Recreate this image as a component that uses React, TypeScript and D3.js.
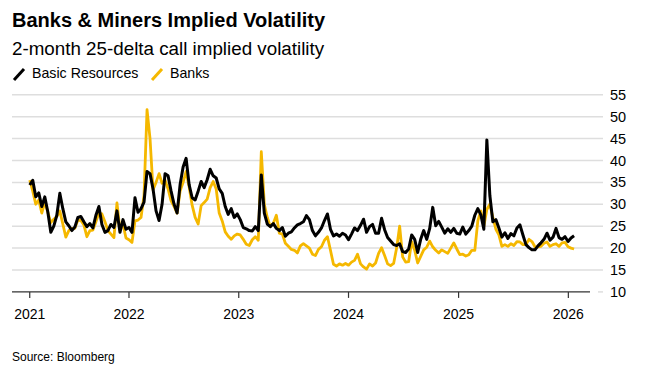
import React from 'react';
import * as d3 from 'd3';

// sampled every 10 days from the first point
const startDate = '2021-02-05';
const stepDays = 10;

const basicResources = [
  34.4, 35.5, 31.7, 32.6, 29.5, 31.7, 28.3, 23.6, 25.0, 27.5,
  32.5, 29.0, 26.0, 25.1, 24.0, 24.8, 27.0, 27.2, 26.0, 24.9,
  25.6, 24.6, 27.5, 29.5, 25.4, 23.6, 24.0, 25.4, 24.7, 28.5,
  23.6, 26.5, 24.3, 24.7, 23.6, 31.5, 28.2, 29.0, 30.5, 37.5,
  37.0, 33.5, 28.5, 26.3, 30.0, 37.0, 36.5, 33.0, 30.0, 28.0,
  34.5, 38.5, 40.5, 34.5, 31.5, 31.0, 33.0, 35.2, 33.8, 35.6,
  38.0, 36.5, 36.0, 33.5, 32.5, 29.5, 27.7, 29.0, 27.0, 27.8,
  26.5, 24.7, 24.4, 24.0, 23.9, 24.9, 24.0, 36.7, 28.0, 25.5,
  24.9, 25.6, 24.5, 24.0, 24.7, 22.7, 23.4, 23.7, 24.6, 25.3,
  25.6, 26.0, 27.4, 26.5, 24.0, 22.8, 23.6, 24.6, 26.3, 27.8,
  24.3, 22.8, 23.2, 22.7, 23.4, 23.0, 21.9, 23.2, 24.6, 24.0,
  25.2, 26.6, 23.6, 24.9, 25.4, 23.4, 23.4, 26.8, 24.2, 22.4,
  21.6, 20.8, 20.6, 21.0, 19.2, 19.0, 19.8, 23.0, 22.0, 19.0,
  22.0, 24.0, 22.0, 24.5, 29.3, 25.1, 26.1, 24.8, 23.4, 24.4,
  23.6, 24.5, 23.4, 23.2, 24.8, 23.2, 24.0, 25.0, 27.5, 29.0,
  27.6, 24.3, 44.7, 32.0, 26.0, 26.5, 24.6, 22.5, 23.5, 22.2,
  23.3, 22.8, 24.6, 25.3, 23.0, 20.8, 20.1, 19.6, 19.6, 20.5,
  21.2, 22.0, 23.4, 21.8, 22.5, 24.5, 22.4, 22.0, 22.6, 21.5,
  22.3, 22.8,
];

const banks = [
  35.5, 33.0, 30.0, 31.0, 28.0, 30.5, 28.2, 25.8, 26.6, 27.2,
  28.5, 25.5, 22.5, 24.0, 24.5, 24.5, 26.4, 26.3, 25.3, 22.6,
  24.0, 24.1, 26.0, 28.0, 27.8, 26.0, 24.0, 23.2, 22.4, 30.3,
  24.2, 25.5, 22.3, 21.9, 21.3, 26.2, 26.4, 27.0, 32.0, 51.6,
  45.0, 33.3, 35.0, 37.0, 34.8, 35.5, 33.5, 30.8, 29.5, 28.0,
  33.0, 35.0, 37.5, 34.0, 29.8, 27.0, 25.5, 29.7, 30.4, 31.2,
  33.8, 35.2, 33.5, 28.0, 26.2, 23.7, 22.7, 22.0, 22.8, 23.2,
  23.0, 22.0, 20.9, 20.6, 21.9, 22.6, 21.8, 42.0, 30.0, 27.0,
  24.9, 25.7, 27.5, 23.4, 23.2, 21.1, 20.4, 19.7, 19.5, 18.9,
  20.5, 21.0, 20.5, 20.0, 18.6, 18.3, 19.7, 20.3, 21.8, 22.6,
  19.5, 16.3, 15.9, 16.4, 16.1, 16.5, 16.1, 16.8, 17.2, 18.6,
  16.4, 15.7, 15.2, 16.4, 15.9, 16.6, 18.8, 20.1, 18.3, 16.4,
  16.0, 16.5, 20.0, 25.0, 18.0, 16.8, 16.9, 21.5, 19.5, 16.6,
  18.1, 19.6, 20.2, 21.6, 20.3, 19.5, 18.9, 19.6, 19.2, 18.8,
  20.0, 21.2, 19.8, 18.5, 18.6, 18.2, 18.5, 19.5, 19.5, 26.2,
  28.5, 25.0, 28.8, 30.0, 27.0, 24.3, 23.0, 20.4, 20.8, 20.4,
  21.0, 20.6, 21.5, 21.4, 20.8, 20.8, 22.0, 21.5, 20.3, 20.3,
  20.4, 21.1, 21.4, 20.4, 20.8, 21.0, 20.4, 21.2, 21.3, 20.3,
  20.0, 19.8,
];

const yTicks = [10, 15, 20, 25, 30, 35, 40, 45, 50, 55];
const xTickDates = ['2021-02-05', '2022-01-01', '2023-01-01', '2024-01-01', '2025-01-01', '2026-01-01'];
const xTickLabels = ['2021', '2022', '2023', '2024', '2025', '2026'];

const seriesNames = ['Basic Resources', 'Banks'];
const colors = ['#000000', '#f5b800'];

const W = 651;
const H = 372;

export default function App() {
  const t0 = new Date(startDate + 'T00:00:00Z');
  const dateAt = (i: number) => new Date(t0.getTime() + i * stepDays * 86400000);

  const x = d3.scaleTime()
    .domain([new Date('2020-12-08T00:00:00Z'), new Date('2026-03-14T00:00:00Z')])
    .range([12, 590]);
  const y = d3.scaleLinear().domain([10, 55]).range([291.9, 94.8]);

  const line = d3.line<number>()
    .x((_, i) => x(dateAt(i)))
    .y(d => y(d))
    .curve(d3.curveLinear);

  const font = '"Liberation Sans", Arial, Helvetica, sans-serif';

  return (
    <svg width={W} height={H} style={{ position: 'absolute', left: 0, top: 0 }} fontFamily={font}>
      <rect width={W} height={H} fill="#fff" />
      <text x={12} y={27} fontSize={20} fontWeight="bold" fill="#000">Banks &amp; Miners Implied Volatility</text>
      <text x={12} y={55} fontSize={18.8} fill="#000">2-month 25-delta call implied volatility</text>

      {/* legend */}
      <g>
        <line x1={14} y1={80} x2={24} y2={69} stroke={colors[0]} strokeWidth={3} />
        <text x={32} y={78} fontSize={14.2} fill="#000">{seriesNames[0]}</text>
        <line x1={152} y1={80} x2={162} y2={69} stroke={colors[1]} strokeWidth={3} />
        <text x={170} y={78} fontSize={14.2} fill="#000">{seriesNames[1]}</text>
      </g>

      {/* grid + y labels */}
      {yTicks.map(v => (
        <g key={v}>
          <line x1={v === 10 ? 598 : 12} x2={603} y1={y(v)} y2={y(v)} stroke="#dedede" strokeWidth={1.5} />
          <text x={610} y={y(v)} dy="0.35em" fontSize={14.5} fill="#000">{v}</text>
        </g>
      ))}

      {/* x axis */}
      <line x1={12} x2={590} y1={y(10)} y2={y(10)} stroke="#333" strokeWidth={1.2} />
      {xTickDates.map((d, i) => {
        const px = x(new Date(d + 'T00:00:00Z'));
        return (
          <g key={d}>
            <line x1={px} x2={px} y1={y(10)} y2={y(10) + 6} stroke="#333" strokeWidth={1.2} />
            <text x={px} y={y(10) + 27} fontSize={14} textAnchor="middle" fill="#000">{xTickLabels[i]}</text>
          </g>
        );
      })}

      <path d={line(banks) || ''} fill="none" stroke={colors[1]} strokeWidth={2.8} strokeLinejoin="round" />
      <path d={line(basicResources) || ''} fill="none" stroke={colors[0]} strokeWidth={3} strokeLinejoin="round" />

      <text x={12} y={361} fontSize={12} fill="#000">Source: Bloomberg</text>
    </svg>
  );
}
